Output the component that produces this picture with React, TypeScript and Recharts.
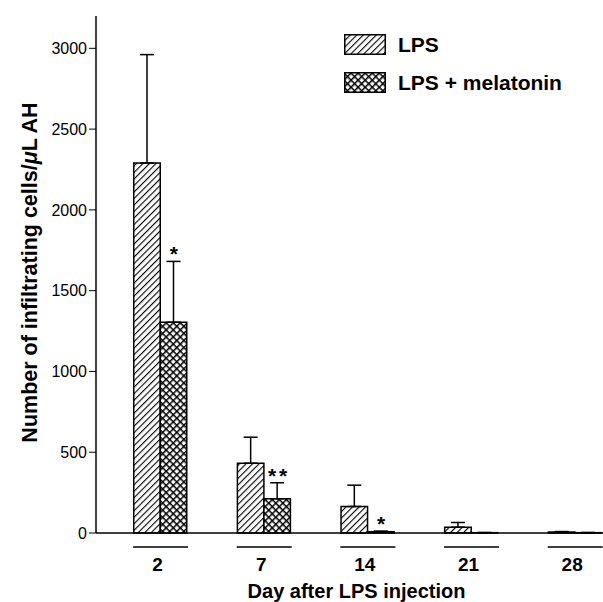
import React from "react";
import { ComposedChart, Bar, Line, XAxis, YAxis, ErrorBar, Legend } from "recharts";

const FONT = '"Liberation Sans", Arial, sans-serif';

// values
const days = ["2", "7", "14", "21", "28"];
const lps = [2290, 432, 164, 36, 6];
const lpsErr = [671, 161, 132, 29, 3];
const mel = [1305, 212, 8, 2, 2];
const melErr = [376, 99, 4, 1, 1];
const sig = ["*", "**", "*", "", ""];
const yTicks = [0, 500, 1000, 1500, 2000, 2500, 3000];

const legendItems = [
  { label: "LPS", fill: "url(#hatch)" },
  { label: "LPS + melatonin", fill: "url(#cross)" },
];

const BAR = 26.5;

const data = days.map((d, i) => ({
  day: d,
  lps: lps[i],
  mel: mel[i],
  lpsE: [0, lpsErr[i]],
  melE: [0, melErr[i]],
  sig: sig[i],
  sigY: sig[i] ? mel[i] + melErr[i] : null,
}));

function DayTick({ x, y, payload }: any) {
  return (
    <g>
      <line x1={x - 27.5} x2={x + 27.5} y1={y + 14} y2={y + 14} stroke="#000" strokeWidth={1.5} />
      <text x={x - 3} y={y + 38} textAnchor="middle" fontSize={19} fontWeight="bold"
        fontFamily={FONT} fill="#000">{payload.value}</text>
    </g>
  );
}

// significance stars above the melatonin bar's error cap
function Star(props: any) {
  const { cx, cy, payload, index } = props;
  if (cy == null || !payload.sig) return <g key={index} />;
  const stars = payload.sig.split("");
  const x0 = cx + BAR / 2 - ((stars.length - 1) * 11) / 2;
  return (
    <g key={index}>
      {stars.map((s: string, j: number) => (
        <text key={j} x={x0 + j * 11} y={cy} textAnchor="middle" fontSize={21}
          fontWeight="bold" fontFamily={FONT} fill="#000">{s}</text>
      ))}
    </g>
  );
}

function LegendBox() {
  return (
    <div style={{ fontFamily: FONT, fontWeight: "bold", fontSize: 21, color: "#000" }}>
      {legendItems.map((it, i) => (
        <div key={i} style={{ display: "flex", alignItems: "center", height: 21, marginBottom: 17 }}>
          <svg width={42} height={21}>
            <rect x={0.75} y={0.75} width={40.5} height={19.5} fill={it.fill} stroke="#000" strokeWidth={1.5} />
          </svg>
          <span style={{ marginLeft: 12, whiteSpace: "nowrap" }}>{it.label}</span>
        </div>
      ))}
    </div>
  );
}

export default function App() {
  return (
    <div style={{ position: "absolute", left: 0, top: 0, width: 603, height: 602, overflow: "hidden", background: "#fff" }}>
      <svg width={0} height={0} style={{ position: "absolute" }}>
        <defs>
          <pattern id="hatch" patternUnits="userSpaceOnUse" width={4.6} height={4.6} patternTransform="rotate(45)">
            <rect width={4.6} height={4.6} fill="#fff" />
            <line x1={0} y1={0} x2={0} y2={4.6} stroke="#000" strokeWidth={2.2} />
          </pattern>
          <pattern id="cross" patternUnits="userSpaceOnUse" width={5} height={5} patternTransform="rotate(45)">
            <rect width={5} height={5} fill="#fff" />
            <line x1={0} y1={0} x2={0} y2={5} stroke="#000" strokeWidth={3} />
            <line x1={0} y1={0} x2={5} y2={0} stroke="#000" strokeWidth={3} />
          </pattern>
        </defs>
      </svg>
      <ComposedChart width={627} height={602} data={data} barGap={0}
        margin={{ top: 16, right: 0, bottom: 0, left: 0 }}>
        <XAxis dataKey="day" interval={0} height={69} tickLine={false} tickSize={0} tickMargin={0}
          axisLine={{ stroke: "#000", strokeWidth: 1.5 }} padding={{ left: 12.75, right: 0 }}
          tick={<DayTick />}
          label={{
            content: ({ viewBox }: any) => (
              <text x={viewBox.x + viewBox.width / 2 - 5} y={viewBox.y + 65} textAnchor="middle"
                fontSize={20} fontWeight="bold" fontFamily={FONT} fill="#000">Day after LPS injection</text>
            ),
          }} />
        <YAxis width={96} domain={[0, 3200]} ticks={yTicks} interval={0} tickSize={7} tickMargin={2}
          axisLine={{ stroke: "#000", strokeWidth: 1.5 }} tickLine={{ stroke: "#000", strokeWidth: 1 }}
          tick={{ fill: "#000", fontSize: 16, fontFamily: FONT }}
          label={{
            content: ({ viewBox }: any) => {
              const cx = 30, cy = viewBox.y + viewBox.height / 2 - 2;
              return (
                <text x={cx} y={cy} transform={`rotate(-90, ${cx}, ${cy})`} textAnchor="middle"
                  dominantBaseline="central" fontSize={21.5} fontWeight="bold" fontFamily={FONT} fill="#000">
                  Number of infiltrating cells/<tspan fontStyle="italic">μ</tspan>L AH
                </text>
              );
            },
          }} />
        <Legend content={<LegendBox />} layout="horizontal" verticalAlign="middle" align="center"
          wrapperStyle={{ position: "absolute", left: 344, top: 34, width: 260 }} />
        <Bar dataKey="lps" fill="url(#hatch)" stroke="#000" strokeWidth={1.5} barSize={BAR} isAnimationActive={false}>
          <ErrorBar dataKey="lpsE" direction="y" width={7} stroke="#000" strokeWidth={1.5} />
        </Bar>
        <Bar dataKey="mel" fill="url(#cross)" stroke="#000" strokeWidth={1.5} barSize={BAR} isAnimationActive={false}>
          <ErrorBar dataKey="melE" direction="y" width={7} stroke="#000" strokeWidth={1.5} />
        </Bar>
        <Line dataKey="sigY" stroke="none" dot={Star} activeDot={false} legendType="none"
          isAnimationActive={false} connectNulls={false} />
      </ComposedChart>
    </div>
  );
}
